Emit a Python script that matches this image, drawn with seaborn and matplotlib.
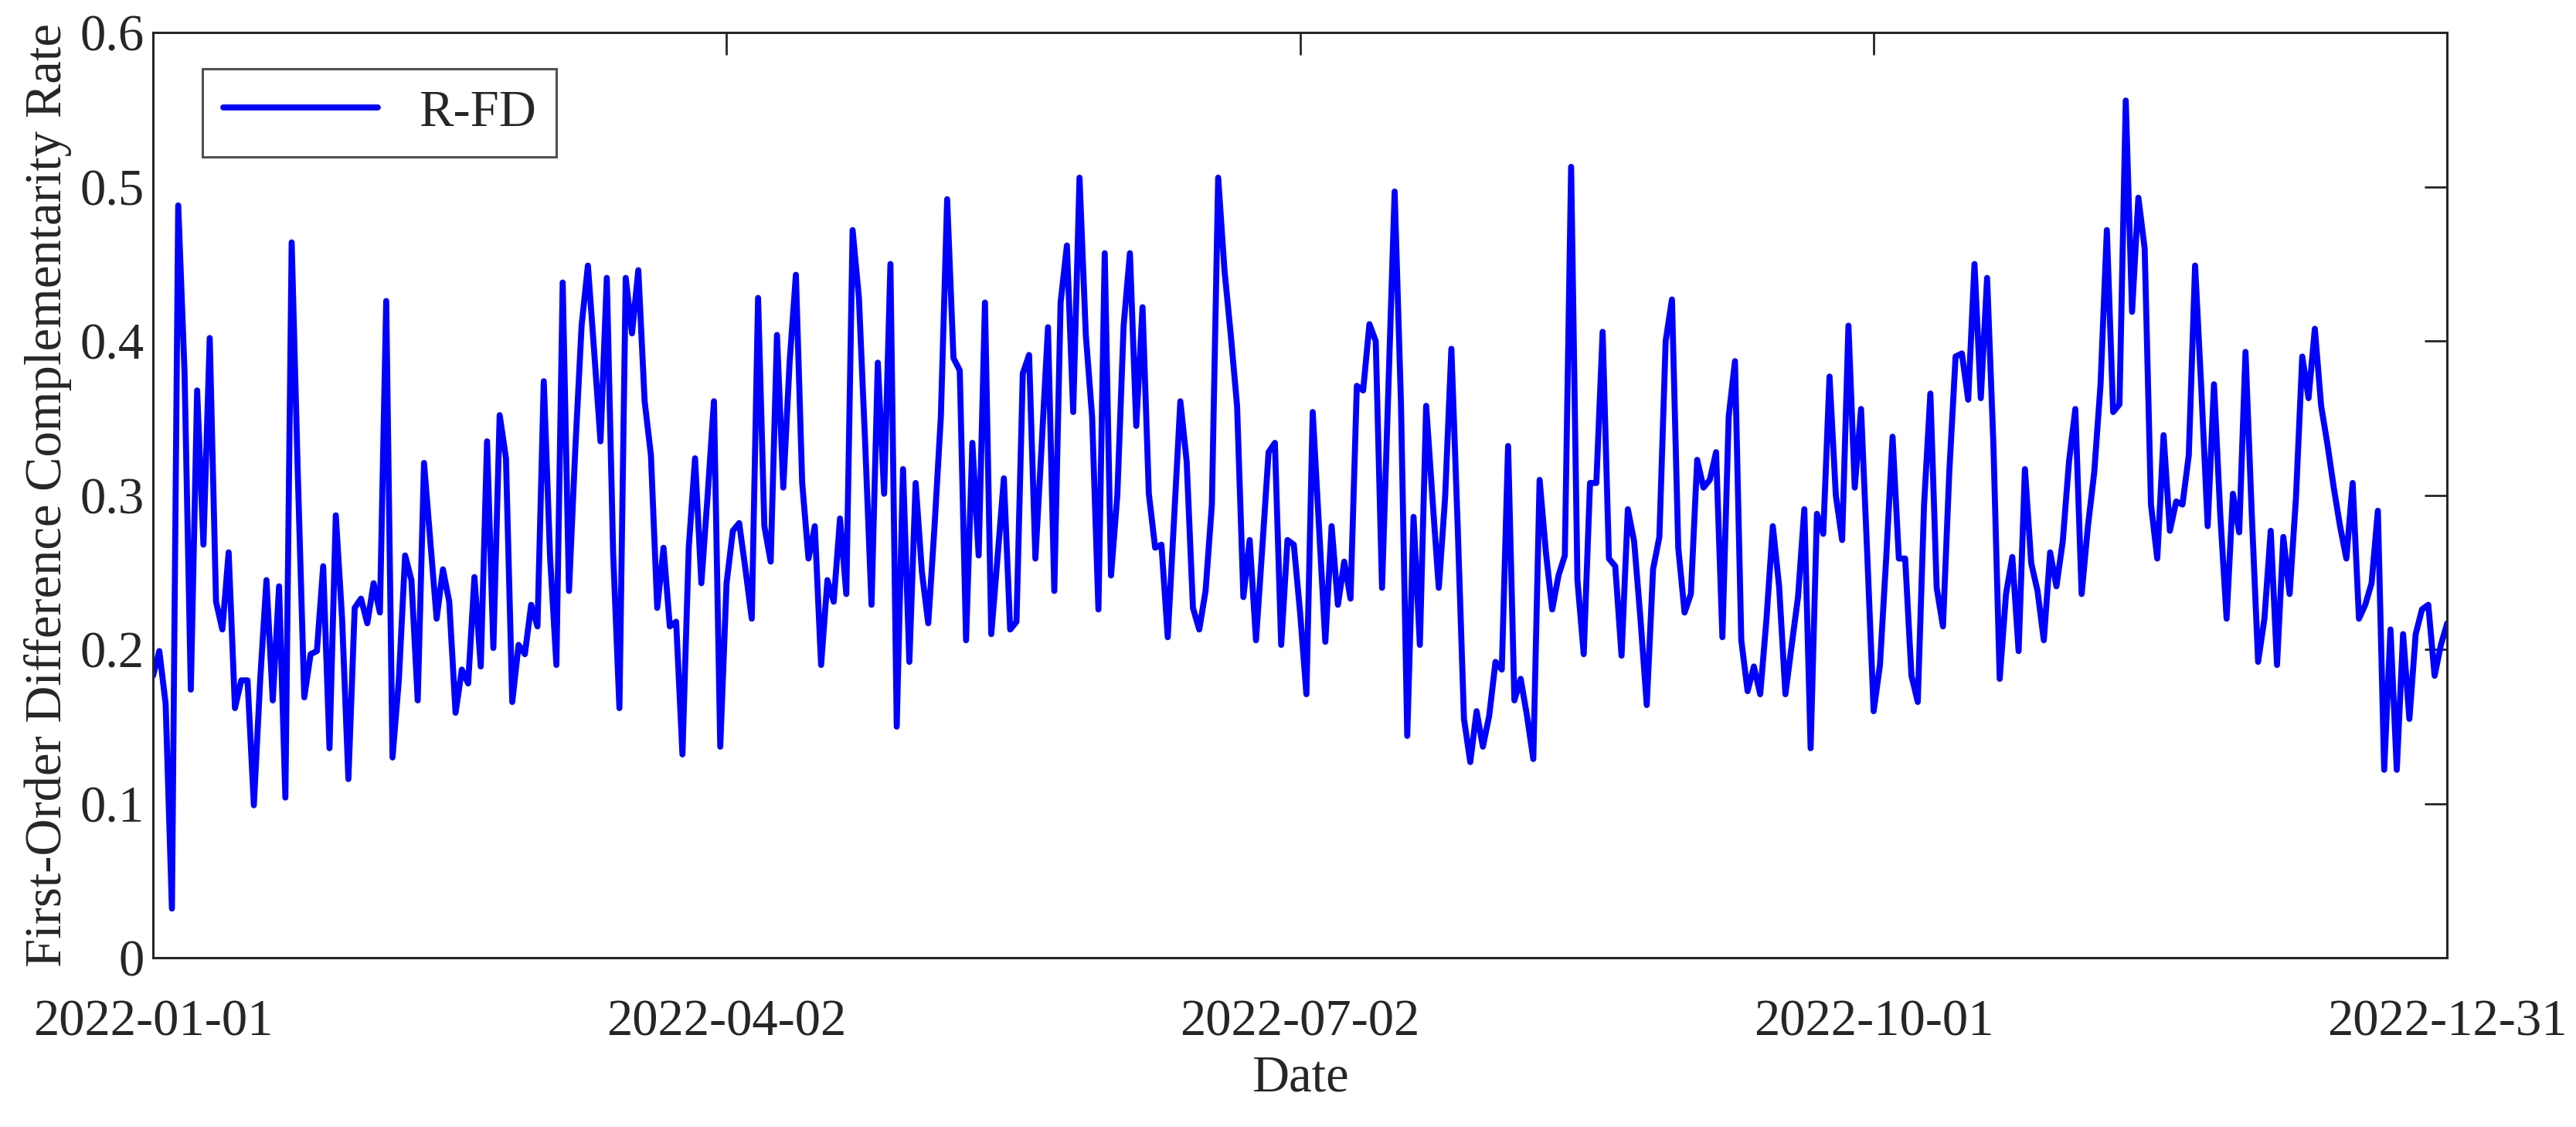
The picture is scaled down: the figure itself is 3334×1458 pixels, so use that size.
import numpy as np
import pandas as pd
import matplotlib
matplotlib.use("Agg")
import matplotlib.pyplot as plt
import seaborn as sns

jan = [0.183, 0.199, 0.165, 0.032, 0.488, 0.380, 0.174, 0.368, 0.268, 0.402, 0.231, 0.213, 0.263, 0.162, 0.180, 0.180,
       0.099, 0.180, 0.245, 0.167, 0.241, 0.104, 0.464, 0.310, 0.169, 0.197, 0.199, 0.254, 0.136, 0.287, 0.220]
feb = [0.116, 0.227, 0.233, 0.217, 0.243, 0.224, 0.426, 0.130, 0.180, 0.261, 0.245, 0.167, 0.321, 0.270, 0.220, 0.252,
       0.231, 0.159, 0.187, 0.178, 0.247, 0.189, 0.335, 0.201, 0.352, 0.324, 0.166, 0.203]
mar = [0.197, 0.229, 0.215, 0.374, 0.260, 0.190, 0.438, 0.238, 0.330, 0.410, 0.449, 0.393, 0.335, 0.441, 0.263, 0.162,
       0.441, 0.405, 0.446, 0.361, 0.326, 0.227, 0.266, 0.215, 0.218, 0.132, 0.266, 0.324, 0.243, 0.300, 0.361]
apr = [0.137, 0.243, 0.277, 0.282, 0.252, 0.220, 0.428, 0.280, 0.257, 0.404, 0.305, 0.386, 0.443, 0.308, 0.259, 0.280,
       0.190, 0.245, 0.231, 0.285, 0.236, 0.472, 0.428, 0.333, 0.229, 0.386, 0.301, 0.450, 0.150, 0.317]
may = [0.192, 0.308, 0.250, 0.217, 0.280, 0.351, 0.492, 0.389, 0.381, 0.206, 0.334, 0.261, 0.425, 0.210, 0.260, 0.311,
       0.213, 0.218, 0.379, 0.391, 0.259, 0.333, 0.409, 0.238, 0.425, 0.462, 0.354, 0.506, 0.404, 0.351, 0.226]
jun = [0.457, 0.248, 0.300, 0.410, 0.457, 0.345, 0.422, 0.301, 0.266, 0.268, 0.208, 0.284, 0.361, 0.322, 0.227, 0.213,
       0.238, 0.294, 0.506, 0.446, 0.404, 0.358, 0.234, 0.271, 0.206, 0.266, 0.328, 0.334, 0.203, 0.271]
jul = [0.268, 0.224, 0.171, 0.354, 0.280, 0.205, 0.280, 0.229, 0.257, 0.233, 0.371, 0.368, 0.411, 0.400, 0.240, 0.368,
       0.497, 0.360, 0.144, 0.286, 0.203, 0.358, 0.298, 0.240, 0.298, 0.395, 0.280, 0.155, 0.127, 0.160, 0.137]
aug = [0.157, 0.192, 0.187, 0.332, 0.167, 0.181, 0.157, 0.129, 0.310, 0.263, 0.226, 0.248, 0.261, 0.513, 0.245, 0.197,
       0.308, 0.308, 0.406, 0.259, 0.254, 0.196, 0.291, 0.270, 0.220, 0.164, 0.252, 0.273, 0.400, 0.427, 0.266]
sep = [0.224, 0.236, 0.323, 0.305, 0.310, 0.328, 0.208, 0.351, 0.387, 0.206, 0.173, 0.189, 0.171, 0.220, 0.280, 0.241,
       0.171, 0.203, 0.234, 0.291, 0.136, 0.288, 0.275, 0.377, 0.300, 0.271, 0.410, 0.305, 0.356, 0.260]
oct_ = [0.160, 0.190, 0.260, 0.338, 0.259, 0.259, 0.183, 0.166, 0.294, 0.366, 0.240, 0.215, 0.315, 0.390, 0.392, 0.362,
        0.450, 0.363, 0.441, 0.333, 0.181, 0.236, 0.260, 0.199, 0.317, 0.256, 0.238, 0.206, 0.263, 0.241, 0.270]
nov = [0.322, 0.356, 0.236, 0.280, 0.315, 0.372, 0.472, 0.354, 0.359, 0.556, 0.419, 0.493, 0.460, 0.294, 0.259, 0.339,
       0.277, 0.296, 0.294, 0.326, 0.449, 0.368, 0.280, 0.372, 0.287, 0.220, 0.301, 0.276, 0.393, 0.287]
dec = [0.192, 0.220, 0.277, 0.190, 0.273, 0.236, 0.298, 0.390, 0.363, 0.408, 0.358, 0.333, 0.305, 0.280, 0.259, 0.308,
       0.220, 0.229, 0.243, 0.290, 0.122, 0.213, 0.122, 0.210, 0.155, 0.210, 0.226, 0.229, 0.183, 0.203, 0.217]

tick_labels = ["2022-01-01", "2022-04-02", "2022-07-02", "2022-10-01", "2022-12-31"]
ytick_labels = ["0", "0.1", "0.2", "0.3", "0.4", "0.5", "0.6"]
series_name = "R-FD"

values = jan + feb + mar + apr + may + jun + jul + aug + sep + oct_ + nov + dec
dates = pd.date_range("2022-01-01", "2022-12-31", freq="D")
df = pd.DataFrame({"Date": dates, "value": values, "series": series_name})

sns.set_theme(style="white")
plt.rcParams["font.family"] = ["Liberation Serif", "DejaVu Serif"]

fig = plt.figure(figsize=(16.67, 7.29), dpi=200)
ax = fig.add_axes([0.0594, 0.150, 0.8906, 0.821])

sns.lineplot(data=df, x="Date", y="value", hue="series", palette=["#0000ff"],
             linewidth=2.8, ax=ax)

tick_col = "#262626"
ax.set_xlim(pd.Timestamp("2022-01-01"), pd.Timestamp("2022-12-31"))
ax.set_ylim(0, 0.6)
ax.set_xticks(pd.to_datetime(tick_labels))
ax.set_xticklabels(tick_labels)
ax.set_yticks([float(v) for v in ytick_labels])
ax.set_yticklabels(ytick_labels)

ax.tick_params(axis="both", which="major", direction="in", length=10.5, width=1.0,
               colors=tick_col, labelsize=24, top=True, right=True)
ax.tick_params(axis="x", pad=19)
ax.tick_params(axis="y", pad=4)
for s in ax.spines.values():
    s.set_color(tick_col)
    s.set_linewidth(1.1)
    s.set_visible(True)

ax.set_xlabel("Date", fontsize=24, color=tick_col, labelpad=4)
ax.set_ylabel("First-Order Difference Complementarity Rate", fontsize=24, color=tick_col, labelpad=4)

leg = ax.legend(loc="upper left", bbox_to_anchor=(0.0215, 0.961), borderaxespad=0,
                fontsize=24, frameon=True, fancybox=False, handlelength=3.0,
                borderpad=0.4, handletextpad=0.8)
leg.get_frame().set_edgecolor(tick_col)
leg.get_frame().set_linewidth(1.1)
for line in leg.get_lines():
    line.set_linewidth(2.8)

fig.savefig("out.png", dpi=200, facecolor="white")
